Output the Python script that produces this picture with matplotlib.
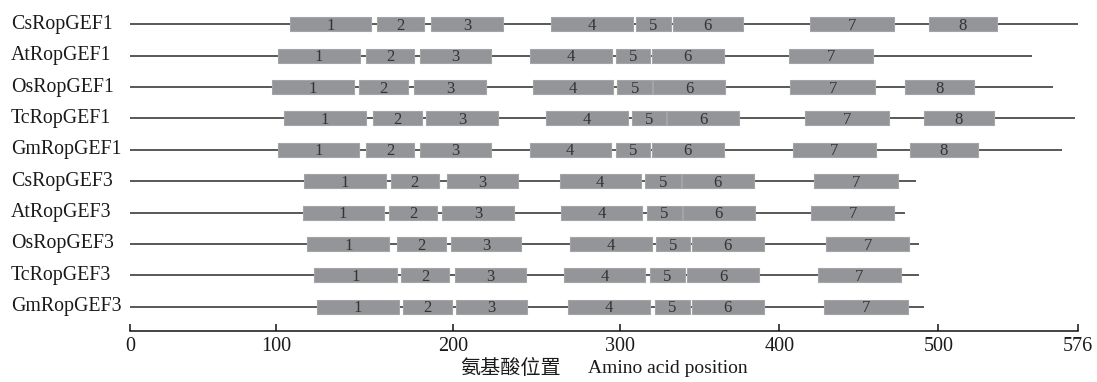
import numpy as np
import matplotlib
matplotlib.use("Agg")
import matplotlib.pyplot as plt
import matplotlib.transforms as mtransforms

# ---------------- data ----------------
proteins = ["CsRopGEF1", "AtRopGEF1", "OsRopGEF1", "TcRopGEF1", "GmRopGEF1",
            "CsRopGEF3", "AtRopGEF3", "OsRopGEF3", "TcRopGEF3", "GmRopGEF3"]
lengths = [576, 551, 562, 574, 567, 486, 479, 488, 488, 491]

cs1 = [(108, 154), (157, 184), (188, 230), (259, 308), (310, 332), (333, 377), (419, 472), (494, 532)]
at1 = [(101, 147.5), (151, 178), (181.5, 223), (246, 295), (297.5, 319), (320, 365), (406, 459)]
os1 = [(97, 144), (147, 174.5), (178, 220), (248, 296), (298.5, 320), (321, 366), (407, 460), (479, 519.5)]
tc1 = [(104.5, 151), (155, 182.5), (185, 227), (256, 305), (307.5, 329), (329.5, 375), (416, 469), (491, 530)]
gm1 = [(101, 147), (151, 178), (181.5, 223), (246, 294.5), (297.5, 319), (320, 365), (408.5, 461), (482, 521.5)]
cs3 = [(116, 162), (165, 192), (197, 239), (264, 313), (316, 338), (338.7, 384), (422, 474.5)]
at3 = [(115, 161), (164, 191), (194, 236.5), (264.5, 314), (317, 338.7), (339.4, 384.7), (420, 472.3)]
os3 = [(117.7, 164), (168.6, 196), (199, 241), (270, 320), (322.4, 344), (345, 390.4), (429.4, 481.8)]
tc3 = [(121.7, 168.3), (170.6, 198), (201.4, 243.8), (266.5, 316), (318.8, 340.8), (342, 387.4), (424.2, 476.5)]
gm3 = [(123.4, 169.6), (172, 199.4), (202, 244.6), (269, 318.8), (322, 344), (345, 390.4), (428.3, 480.8)]
domains = [cs1, at1, os1, tc1, gm1, cs3, at3, os3, tc3, gm3]

xticks = [0, 100, 200, 300, 400, 500, 576]
xtick_labels = ["0", "100", "200", "300", "400", "500", "576"]
# the printed axis is not evenly spaced; relative positions of its ticks
tick_pos = [0, 146, 322.7, 490, 649.3, 808.3, 948.3]

xlabel_cn = "氨基酸位置"
xlabel_en = "Amino acid position"

# ---------------- style ----------------
SERIF = ["Liberation Serif", "DejaVu Serif"]
CJK = ["Noto Sans CJK SC", "DejaVu Sans"]
BOX_COLOR = "#949598"
LINE_COLOR = "#2b2b2b"
TXT_COLOR = "#333333"


def fwd(x):
    return np.interp(x, xticks, tick_pos)


def inv(p):
    return np.interp(p, tick_pos, xticks)


W, H = 1097, 382
fig = plt.figure(figsize=(W / 100, H / 100), dpi=100)
ax_left, ax_right = 130, 1078.3
ax_top, ax_bottom = 5, 331.3
ax = fig.add_axes([ax_left / W, 1 - ax_bottom / H,
                   (ax_right - ax_left) / W, (ax_bottom - ax_top) / H])
ax.set_xscale("function", functions=(fwd, inv))

n = len(proteins)
row_top_px, row_bot_px = 24.3, 306.7
step = (row_bot_px - row_top_px) / (n - 1)
ylo = (ax_bottom - row_top_px) / step
yhi = (ax_top - row_top_px) / step
ax.set_xlim(0, 576)
ax.set_ylim(ylo, yhi)

box_h = 14.0 / step

for i, (name, L, doms) in enumerate(zip(proteins, lengths, domains)):
    ax.hlines(i, 0, L, color=LINE_COLOR, lw=1.1, zorder=1)
    starts = [d[0] for d in doms]
    widths = [d[1] - d[0] for d in doms]
    bars = ax.barh([i] * len(doms), widths, left=starts, height=box_h,
                   color=BOX_COLOR, edgecolor="#a4a5a7", linewidth=0.8, zorder=2)
    for b in bars:
        b.set_joinstyle("round")
    for k, (a, b) in enumerate(doms):
        c = inv((fwd(a) + fwd(b)) / 2.0)
        ax.text(c, i + 0.05, str(k + 1), ha="center", va="center",
                fontsize=12, family=SERIF, color=TXT_COLOR, zorder=3)

# row labels
trans = mtransforms.blended_transform_factory(fig.transFigure, ax.transData)
for i, name in enumerate(proteins):
    ax.text(11 / W, i, name, transform=trans, ha="left", va="center",
            fontsize=14.3, family=SERIF, color="#1a1a1a")

# axis
for s in ["left", "top", "right"]:
    ax.spines[s].set_visible(False)
ax.spines["bottom"].set_linewidth(1.1)
ax.spines["bottom"].set_color("#111111")
ax.set_yticks([])
ax.set_xticks(xticks)
ax.set_xticklabels(xtick_labels, family=SERIF, fontsize=14.5, color="#1a1a1a")
ax.xaxis.set_minor_locator(matplotlib.ticker.NullLocator())
ax.tick_params(axis="x", direction="in", length=5, width=1.1, pad=4,
               color="#111111")

# x label (Chinese + English)
fig.text(510.5 / W, 1 - 368 / H, xlabel_cn, ha="center", va="center",
         fontsize=14.5, family=CJK, color="#1a1a1a")
fig.text(588 / W, 1 - 368.5 / H, xlabel_en, ha="left", va="center",
         fontsize=14, family=SERIF, color="#1a1a1a")

fig.savefig("out.png", dpi=100)
